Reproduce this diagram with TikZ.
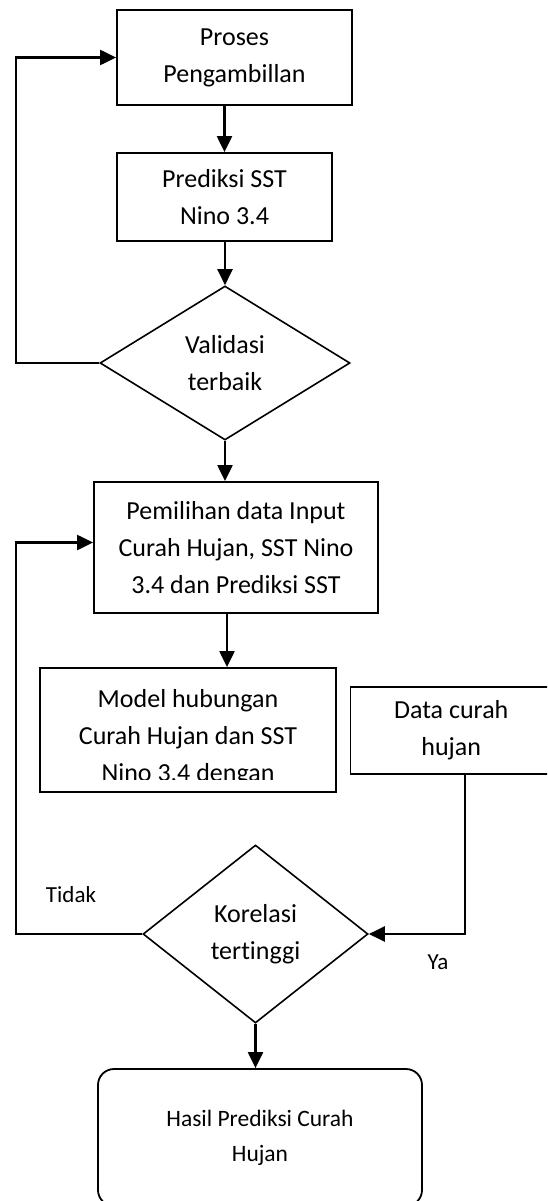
\documentclass[tikz,border=0pt]{standalone}
\usepackage{fontspec}
\setmainfont{Carlito}[Ligatures={NoCommon}]
\usetikzlibrary{shapes.geometric,arrows.meta,calc}
\begin{document}
\begin{tikzpicture}[x=1pt,y=-1pt,
  box/.style={draw,line width=1.8pt,rectangle,inner sep=0pt,align=center,font=\fontsize{26}{37}\selectfont},
  dec/.style={draw,line width=1.6pt,diamond,inner sep=0pt,align=center,font=\fontsize{26}{37}\selectfont},
  plain/.style={inner sep=0pt,align=center,font=\fontsize{26}{37}\selectfont},
  arr/.style={line width=2.2pt,-{Triangle[length=16pt,width=15pt]}},
  lbl/.style={font=\fontsize{23}{28}\selectfont,inner sep=0pt}]
\useasboundingbox (0,0) rectangle (547,1201);
\clip (0,0) rectangle (547,1201);
\fill[white] (0,0) rectangle (547,1201);
% nodes
\node[box,minimum width=235pt,minimum height=95pt] (b1) at (234.5,57.5) {Proses\\Pengambillan};
\node[box,minimum width=215pt,minimum height=88pt] (b2) at (224.5,197) {Prediksi SST\\Nino 3.4};
\node[dec,minimum width=250pt,minimum height=154pt] (d1) at (225,363) {Validasi\\terbaik};
\node[box,minimum width=284pt,minimum height=131pt] (b3) at (236,547.5) {Pemilihan data Input\\Curah Hujan, SST Nino\\3.4 dan Prediksi SST};
\node[box,minimum width=295.5pt,minimum height=124pt] (b4) at (188,730) {};
\begin{scope}
\clip (40,660) rectangle (336,779);
\node[plain] (b4text) at (188,738) {Model hubungan\\Curah Hujan dan SST\\Nino 3,4 dengan};
\end{scope}
\node[box,minimum width=201.5pt,minimum height=87pt] (b5) at (451.25,730.5) {Data curah\\hujan};
\node[dec,minimum width=225pt,minimum height=178pt] (d2) at (255.5,934) {Korelasi\\tertinggi};
\node[box,rounded corners=16pt,minimum width=324pt,minimum height=137pt,font=\fontsize{23.5}{35}\selectfont] (b6) at (260,1137.5) {Hasil Prediksi Curah\\Hujan};
\node[lbl] (tidak) at (71,895) {Tidak};
\node[lbl] (ya) at (438,962) {Ya};
% connectors
\coordinate (L) at (16,0);
\coordinate (b3in) at ($(b3.west)+(0,-5)$);
\draw[arr] (b2.north |- b1.south) -- (b2.north);
\draw[arr] (d1.north |- b2.south) -- (d1.north);
\draw[arr] (d1.west) -- (d1.west -| L) |- (b1.west);
\draw[arr] (d1.south) -- (d1.south |- b3.north);
\draw[arr] (d2.west) -- (d2.west -| L) |- (b3in);
\draw[arr] ([xshift=-9pt]b3.south) -- ([xshift=-9pt]b3.south |- b4.north);
\draw[arr] ([xshift=13.75pt]b5.south) |- (d2.east);
\draw[arr] (d2.south) -- (d2.south |- b6.north);
\end{tikzpicture}
\end{document}
